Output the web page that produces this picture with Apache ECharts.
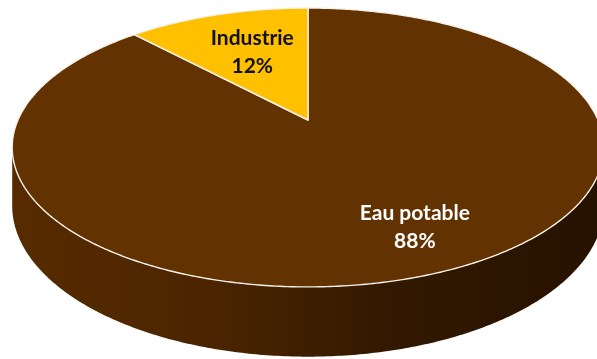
<!DOCTYPE html>
<html>
<head>
<meta charset="utf-8">
<script src="https://cdn.jsdelivr.net/npm/echarts@6/dist/echarts.min.js"></script>
<style>
html,body{margin:0;padding:0;background:#fff;}
#main{width:597px;height:359px;}
</style>
</head>
<body>
<div id="main"></div>
<script>
// ---- data ----
const categories = ['Eau potable', 'Industrie'];
const values = [88, 12];

// ---- styles ----
const sliceColors = ['#623200', '#FFC000'];
const labelColors = ['#ffffff', '#111111'];
const labelRadius = [0.75, 0.6];
const labelShift = [[14, -1], [2, 0]];

// perspective projection parameters (unit circle -> screen)
const CX = 308, A = 290, G = 0.197, DV = -110.4, E = 120, DEPTH = 56;
function proj(u, v) {
  const den = 1 + G * v;
  return [CX + A * u / den, (DV * v + E) / den];
}
function projBottom(u, v) {
  const den = 1 + G * v;
  return [CX + A * u / den, (DV * v + E) / den + DEPTH / den];
}
const total = values.reduce((a, b) => a + b, 0);
const aRight = Math.acos(-G);
const aLeft = 2 * Math.PI - aRight;

function arc(a0, a1, fn) {
  const pts = [];
  const n = Math.max(2, Math.ceil((a1 - a0) / 0.01));
  for (let i = 0; i <= n; i++) {
    const a = a0 + (a1 - a0) * i / n;
    pts.push(fn(Math.sin(a), Math.cos(a)));
  }
  return pts;
}

const sideGradient = new echarts.graphic.LinearGradient(12, 0, 604, 0, [
  {offset: 0, color: '#572b00'},
  {offset: 0.35, color: '#4a2400'},
  {offset: 0.65, color: '#321800'},
  {offset: 1, color: '#261200'}
], true);

function renderItem(params, api) {
  const idx = params.dataIndex;
  const val = api.value(0);
  let before = 0;
  for (let i = 0; i < idx; i++) before += values[i];
  const a0 = before / total * 2 * Math.PI;
  const a1 = (before + val) / total * 2 * Math.PI;
  const children = [];
  // side (front visible part)
  const s0 = Math.max(a0, aRight), s1 = Math.min(a1, aLeft);
  if (s1 > s0) {
    const topPts = arc(s0, s1, proj);
    const botPts = arc(s0, s1, projBottom).reverse();
    children.push({
      type: 'polygon', z2: 1,
      shape: {points: topPts.concat(botPts)},
      style: {fill: sideGradient, stroke: null}
    });
  }
  // top face
  const topFace = [proj(0, 0)].concat(arc(a0, a1, proj));
  children.push({
    type: 'polygon', z2: 2,
    shape: {points: topFace},
    style: {fill: sliceColors[idx], stroke: '#f4f0ea', lineWidth: 1.4, lineJoin: 'round'}
  });
  // label
  const am = (a0 + a1) / 2, r = labelRadius[idx];
  const lp = proj(r * Math.sin(am), r * Math.cos(am));
  children.push({
    type: 'text', z2: 3,
    style: {
      text: categories[idx] + '\n' + Math.round(val / total * 100) + '%',
      x: lp[0] + labelShift[idx][0], y: lp[1] + labelShift[idx][1],
      fill: labelColors[idx],
      fontFamily: 'Lato', fontWeight: 'bold', fontSize: 21,
      lineHeight: 28,
      align: 'center', verticalAlign: 'middle'
    }
  });
  return {type: 'group', children};
}

const chart = echarts.init(document.getElementById('main'), null, {renderer: 'canvas'});
chart.setOption({
  animation: false,
  backgroundColor: '#ffffff',
  series: [{
    type: 'custom',
    coordinateSystem: 'none',
    renderItem: renderItem,
    data: values.map((v, i) => ({name: categories[i], value: [v]}))
  }]
});
</script>
</body>
</html>
